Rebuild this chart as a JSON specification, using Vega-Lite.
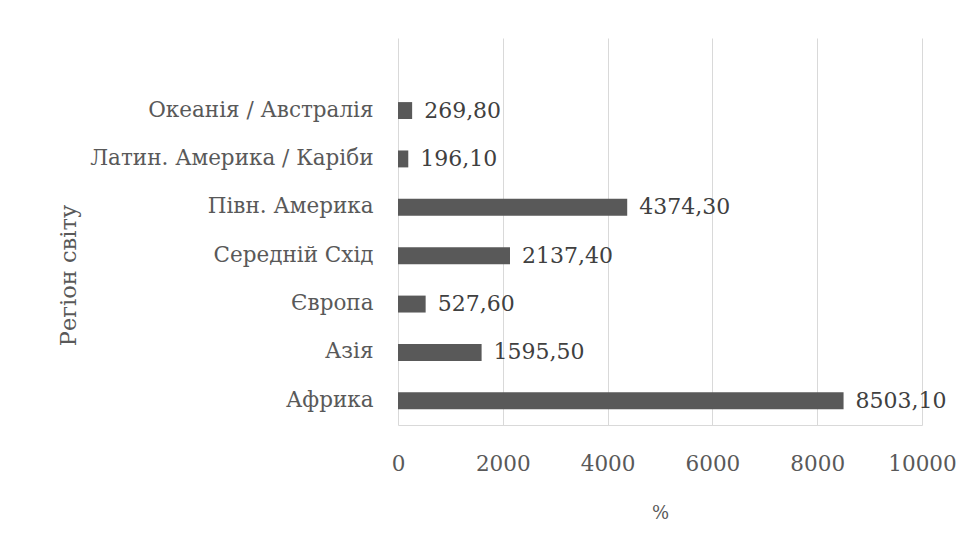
{
  "$schema": "https://vega.github.io/schema/vega-lite/v6.json",
  "autosize": "none",
  "width": 524,
  "height": 387,
  "padding": {"left": 398, "top": 38, "right": 48, "bottom": 117},
  "background": "white",
  "config": {
    "font": "DejaVu Serif",
    "view": {"stroke": null},
    "locale": {"number": {"decimal": ",", "thousands": "", "grouping": [3], "currency": ["", ""]}}
  },
  "data": {
    "values": [
      {"region": "Океанія / Австралія", "value": 269.8},
      {"region": "Латин. Америка / Каріби", "value": 196.1},
      {"region": "Півн. Америка", "value": 4374.3},
      {"region": "Середній Схід", "value": 2137.4},
      {"region": "Європа", "value": 527.6},
      {"region": "Азія", "value": 1595.5},
      {"region": "Африка", "value": 8503.1}
    ]
  },
  "encoding": {
    "y": {
      "field": "region",
      "type": "nominal",
      "sort": null,
      "scale": {
        "domain": ["", "Океанія / Австралія", "Латин. Америка / Каріби", "Півн. Америка", "Середній Схід", "Європа", "Азія", "Африка"],
        "paddingInner": 0.65,
        "paddingOuter": 0.325
      },
      "axis": {
        "title": "Регіон світу",
        "titleFont": "DejaVu Serif",
        "titleFontSize": 22.5,
        "titleFontWeight": "normal",
        "titleColor": "#595959",
        "titleX": -330,
        "titleY": 237,
        "titleAngle": -90,
        "titleBaseline": "middle",
        "titleAlign": "center",
        "labelFont": "DejaVu Serif",
        "labelFontSize": 21.5,
        "labelColor": "#595959",
        "labelPadding": 25,
        "labelLimit": 400,
        "ticks": false,
        "domain": false,
        "grid": false
      }
    },
    "x": {
      "field": "value",
      "type": "quantitative",
      "scale": {"domain": [0, 10000], "nice": false},
      "axis": {
        "values": [0, 2000, 4000, 6000, 8000, 10000],
        "title": "%",
        "titleFont": "DejaVu Serif",
        "titleFontSize": 18,
        "titleFontWeight": "normal",
        "titleColor": "#595959",
        "titlePadding": 30,
        "labelFont": "DejaVu Serif",
        "labelFontSize": 21.5,
        "labelColor": "#595959",
        "labelPadding": 28,
        "labelFlush": false,
        "ticks": false,
        "domain": true,
        "domainColor": "#d9d9d9",
        "grid": true,
        "gridColor": "#d9d9d9"
      }
    }
  },
  "layer": [
    {"mark": {"type": "bar", "color": "#595959"}},
    {
      "mark": {"type": "text", "align": "left", "baseline": "middle", "dx": 12, "fontSize": 22, "color": "#404040", "font": "DejaVu Serif"},
      "encoding": {"text": {"field": "value", "type": "quantitative", "format": ".2f"}}
    }
  ]
}
